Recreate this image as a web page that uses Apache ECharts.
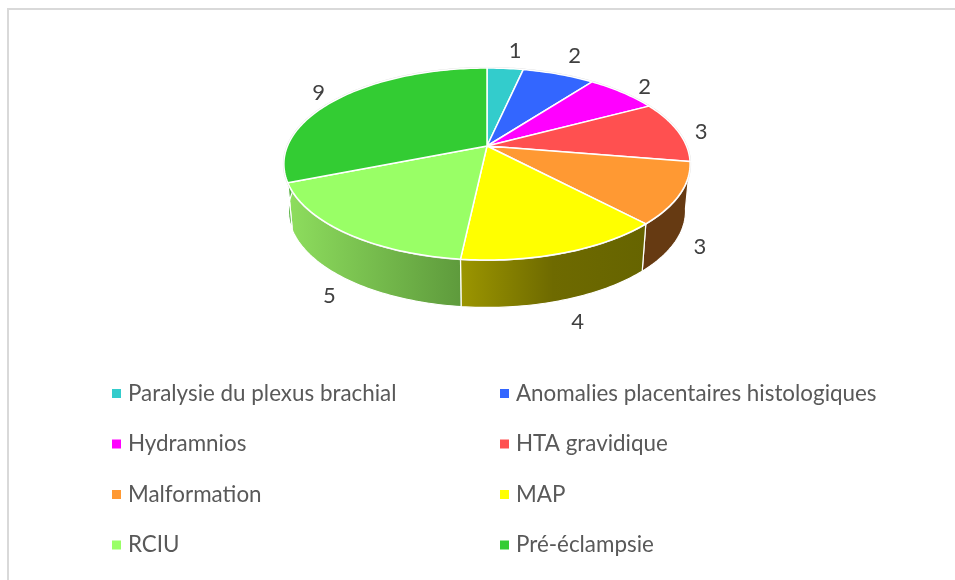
<!DOCTYPE html>
<html>
<head>
<meta charset="utf-8">
<style>html,body{margin:0;padding:0;background:#fff}#c{width:955px;height:580px}</style>
<script src="https://cdn.jsdelivr.net/npm/echarts@6/dist/echarts.min.js"></script>
</head>
<body>
<div id="c"></div>
<script>
// ---- data ----
const categories = ['Paralysie du plexus brachial','Anomalies placentaires histologiques','Hydramnios','HTA gravidique','Malformation','MAP','RCIU','Pré-éclampsie'];
const values = [1,2,2,3,3,4,5,9];
const colors = ['#33CCCC','#3366FF','#FF00FF','#FF5050','#FF9933','#FFFF00','#99FF66','#33CC33'];
const sideStops = [
  ['#1f8080','#1f8080'],['#1f4099','#1f4099'],['#990099','#990099'],['#8a2c2c','#8a2c2c'],
  ['#663a12','#663a12'],['#9c9600','#6e6a00','#666400'],['#8ede5e','#5e9a3c'],['#55b03f','#55b03f']
];
const leftLegend = [0,2,4,6].map(i => categories[i]);
const rightLegend = [1,3,5,7].map(i => categories[i]);

// ---- 3D projection of the disc ----
const total = values.reduce((a,b)=>a+b,0);
const cum = []; values.reduce((s,v,i)=>(cum[i]=s, s+v),0);
const TOP = {cx:487, cy:146, a:199.5, b:92.6, k:0.1875};
const BOT = {cx:487, cy:193, a:195, b:93, k:0.1875};
function proj(P, th, r){
  r = r===undefined?1:r;
  const d = 1 + P.k*r*Math.cos(th);
  return [P.cx + P.a*r*Math.sin(th)/d, P.cy - P.b*r*Math.cos(th)/d];
}
function arc(P, t1, t2){
  const n = Math.max(2, Math.ceil(Math.abs(t2-t1)/0.02)), out=[];
  for(let j=0;j<=n;j++) out.push(proj(P, t1+(t2-t1)*j/n));
  return out;
}
const ang = v => v/total*Math.PI*2;
// label nudges relative to the outer rim at each slice's mid-angle
const labelNudge = [[10,-18],[16,-18],[22,-6],[23,0],[24,6],[15,22],[-19,16],[-19,-6]];

function topItem(i){
  return function(params, api){
    const v = api.value(0);
    const t1 = ang(cum[i]), t2 = t1 + ang(v), mid = (t1+t2)/2;
    const pts = [[TOP.cx,TOP.cy]].concat(arc(TOP,t1,t2));
    const front = Math.cos(mid) < -0.2;
    const rim = proj(front?BOT:TOP, mid);
    return {type:'group', children:[
      {type:'polygon', shape:{points:pts}, style:{fill:colors[i], stroke:'#fff', lineWidth:1.5, lineJoin:'round'}},
      {type:'text', style:{text:String(v), x:rim[0]+labelNudge[i][0], y:rim[1]+labelNudge[i][1], align:'center', verticalAlign:'middle', font:'22px Lato, "Open Sans", sans-serif', fill:'#404040'}}
    ]};
  };
}
function sideItem(params, api){
  const i = api.value(0), v = api.value(1);
  const t1 = ang(cum[i]), t2 = t1 + ang(v);
  const pts = arc(TOP,t1,t2).concat(arc(BOT,t2,t1));
  const st = sideStops[i];
  return {type:'polygon', shape:{points:pts}, style:{
    fill:new echarts.graphic.LinearGradient(0,0,1,0,st.map((c,j)=>({offset:j/(st.length-1),color:c}))),
    stroke:'#fff', lineWidth:1.2, lineJoin:'round'}};
}
function outlineItem(){
  return {type:'polygon', shape:{points:arc(TOP,0,Math.PI*2)}, style:{fill:'none', stroke:'#dcdcdc', lineWidth:2}};
}

const series = [
  {type:'custom', name:'sides', coordinateSystem:'none', silent:true, z:1, renderItem:sideItem,
   data:values.map((v,i)=>[i,v]), animation:false},
  {type:'custom', name:'outline', coordinateSystem:'none', silent:true, z:2, renderItem:outlineItem, data:[[0]], animation:false}
].concat(categories.map((c,i)=>({
  type:'custom', name:c, coordinateSystem:'none', silent:true, z:3, renderItem:topItem(i),
  itemStyle:{color:colors[i]}, data:[[values[i]]], animation:false
})));

function legend(names, left){
  return {data:names.map(n=>({name:n, icon:'rect'})), orient:'vertical', left:left, top:376, itemWidth:9, itemHeight:9, itemGap:25.5,
    selectedMode:false, textStyle:{fontFamily:'Lato, "Open Sans", sans-serif', fontSize:22.4, lineHeight:25, color:'#595959', padding:[0,0,0,2]}};
}
const chart = echarts.init(document.getElementById('c'), null, {renderer:'canvas'});
chart.setOption({
  animation:false,
  backgroundColor:'#fff',
  graphic:[
    {type:'rect', shape:{x:7,y:8,width:948,height:2}, style:{fill:'#d9d9d9'}, silent:true},
    {type:'rect', shape:{x:7,y:8,width:2,height:572}, style:{fill:'#d9d9d9'}, silent:true}
  ],
  legend:[legend(leftLegend,107), legend(rightLegend,495)],
  series:series
});
</script>
</body>
</html>
